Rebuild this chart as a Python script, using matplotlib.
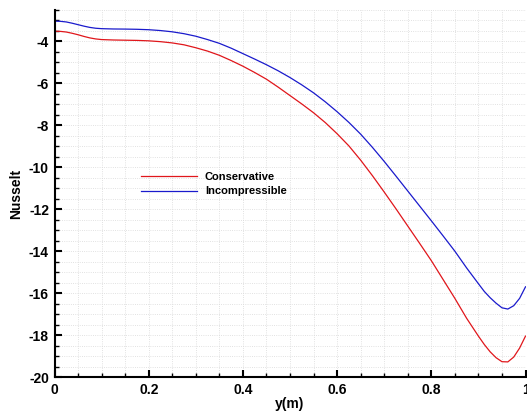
import matplotlib
matplotlib.use("Agg")
import matplotlib.pyplot as plt
from matplotlib.ticker import MultipleLocator

x_cons = [0.00, 0.0125, 0.025, 0.0375, 0.05, 0.0625, 0.075, 0.0875, 0.10, 0.125,
          0.15, 0.175, 0.20, 0.225, 0.25, 0.275, 0.30, 0.325, 0.35, 0.375, 0.40,
          0.425, 0.45, 0.475, 0.50, 0.525, 0.55, 0.575, 0.60, 0.625, 0.65, 0.675,
          0.70, 0.725, 0.75, 0.775, 0.80, 0.825, 0.85, 0.875, 0.90, 0.9125, 0.925,
          0.9375, 0.95, 0.9625, 0.975, 0.9875, 1.00]
nu_cons = [-3.51, -3.52, -3.55, -3.61, -3.68, -3.76, -3.83, -3.88, -3.91, -3.93,
           -3.94, -3.95, -3.97, -4.01, -4.07, -4.16, -4.30, -4.46, -4.66, -4.91, -5.18,
           -5.48, -5.80, -6.18, -6.58, -6.98, -7.40, -7.87, -8.40, -8.98, -9.66, -10.40,
           -11.18, -11.98, -12.80, -13.62, -14.45, -15.35, -16.25, -17.20, -18.05, -18.45, -18.80,
           -19.08, -19.27, -19.28, -19.05, -18.62, -18.05]

x_inc = [0.00, 0.0125, 0.025, 0.0375, 0.05, 0.0625, 0.075, 0.0875, 0.10, 0.125,
         0.15, 0.175, 0.20, 0.225, 0.25, 0.275, 0.30, 0.325, 0.35, 0.375, 0.40,
         0.425, 0.45, 0.475, 0.50, 0.525, 0.55, 0.575, 0.60, 0.625, 0.65, 0.675,
         0.70, 0.725, 0.75, 0.775, 0.80, 0.825, 0.85, 0.875, 0.90, 0.9125, 0.925,
         0.9375, 0.95, 0.9625, 0.975, 0.9875, 1.00]
nu_inc = [-3.03, -3.04, -3.07, -3.13, -3.20, -3.27, -3.33, -3.37, -3.39, -3.405,
          -3.41, -3.42, -3.44, -3.48, -3.54, -3.63, -3.75, -3.91, -4.09, -4.32, -4.58,
          -4.84, -5.11, -5.40, -5.72, -6.07, -6.45, -6.88, -7.35, -7.86, -8.42, -9.05,
          -9.72, -10.42, -11.13, -11.84, -12.55, -13.27, -14.00, -14.80, -15.55, -15.92, -16.22,
          -16.48, -16.70, -16.76, -16.60, -16.25, -15.70]

labels = ["Conservative", "Incompressible"]
x_label = "y(m)"
y_label = "Nusselt"

plt.rcParams['font.family'] = ['Liberation Sans', 'DejaVu Sans']
plt.rcParams['axes.unicode_minus'] = False

fig = plt.figure(figsize=(5.27, 4.13), dpi=100)
ax = fig.add_axes([54.5 / 527, 1 - 377 / 413, (525.5 - 54.5) / 527, (377 - 10) / 413])

ax.plot(x_cons, nu_cons, color='#e0161b', lw=0.9, label=labels[0])
ax.plot(x_inc, nu_inc, color='#1a1acc', lw=0.9, label=labels[1])

ax.set_xlim(0, 1)
ax.set_ylim(-20, -2.5)
ax.xaxis.set_major_locator(MultipleLocator(0.2))
ax.xaxis.set_minor_locator(MultipleLocator(0.05))
ax.yaxis.set_major_locator(MultipleLocator(2))
ax.yaxis.set_minor_locator(MultipleLocator(0.5))
ax.xaxis.set_major_formatter(plt.FuncFormatter(lambda v, p: f"{v:g}"))
ax.yaxis.set_major_formatter(plt.FuncFormatter(lambda v, p: f"{v:g}"))

ax.grid(True, which='both', color='#d8d8d8', linestyle=':', linewidth=0.6)
ax.set_axisbelow(True)

for s in ['top', 'right']:
    ax.spines[s].set_visible(False)
for s in ['left', 'bottom']:
    ax.spines[s].set_linewidth(1.5)

ax.tick_params(which='major', direction='in', length=5, width=1.5, labelsize=10, pad=4)
ax.tick_params(which='minor', direction='in', length=3, width=1.0)
for lab in ax.get_xticklabels() + ax.get_yticklabels():
    lab.set_fontweight('bold')

ax.set_xlabel(x_label, fontsize=10, fontweight='bold', labelpad=0)
ax.set_ylabel(y_label, fontsize=10, fontweight='bold', labelpad=4)

leg = ax.legend(loc='upper left', bbox_to_anchor=(141 / 527, 1 - 172 / 413),
                bbox_transform=fig.transFigure, frameon=False,
                prop={'weight': 'bold', 'size': 8}, handlelength=5.0,
                handletextpad=0.75, labelspacing=0.4, borderpad=0, borderaxespad=0)

fig.savefig("out.png", dpi=100)
